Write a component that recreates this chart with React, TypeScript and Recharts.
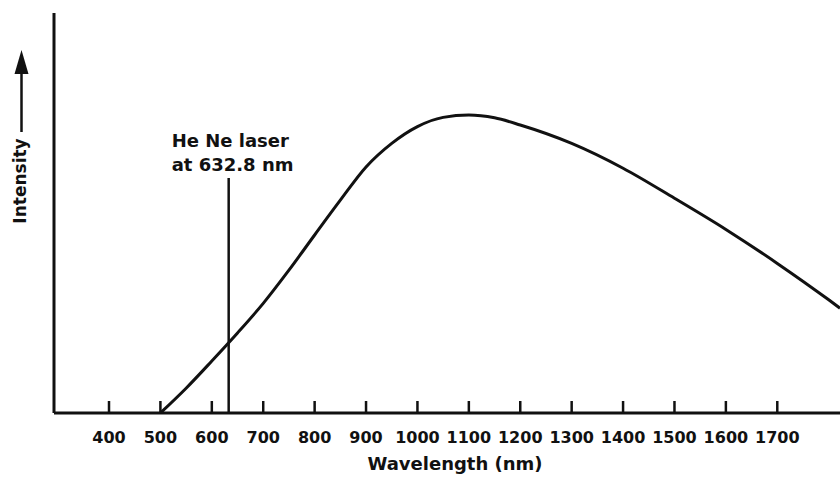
import { LineChart, Line, XAxis, YAxis, ReferenceLine, Label } from "recharts"

// emission spectrum, intensity in arbitrary units (0-100)
const wavelengths = [500, 550, 600, 650, 700, 750, 800, 850, 900, 950, 1000, 1050, 1100, 1150, 1200, 1300, 1400, 1500, 1600, 1700, 1800, 1822]
const intensities = [0, 6.2, 13, 20, 27.4, 35.7, 44.5, 53.2, 61.5, 67.4, 71.6, 73.9, 74.5, 73.8, 72, 67.4, 61.2, 53.7, 45.9, 37.4, 28.3, 26.2]
const tickValues = [400, 500, 600, 700, 800, 900, 1000, 1100, 1200, 1300, 1400, 1500, 1600, 1700]

const laserWavelength = 632.8
const laserHeight = 58.75
const laserLabel = ["He Ne laser", "at 632.8 nm"]

const xTitle = "Wavelength (nm)"
const yTitle = "Intensity"

const data = wavelengths.map((nm, i) => ({ nm, intensity: intensities[i] }))

const FONT = "'DejaVu Sans', sans-serif"
const INK = "#111"

function WaveTick(props: any) {
  const { x, y, payload } = props
  return (
    <g>
      <line x1={x} x2={x} y1={y} y2={y - 12} stroke={INK} strokeWidth={2.5} />
      <text x={x} y={y + 30} textAnchor="middle" fontFamily={FONT} fontWeight="bold" fontSize={16} fill={INK}>
        {payload.value}
      </text>
    </g>
  )
}

// rotated axis title with an upward arrow, placed left of the y axis line
function IntensityLabel(props: any) {
  const { viewBox } = props
  const left = viewBox.x + viewBox.width
  const ax = left - 32.5
  const bx = left - 28
  const cy = viewBox.y + 168
  return (
    <g>
      <text
        x={bx}
        y={cy}
        transform={`rotate(-90, ${bx}, ${cy})`}
        textAnchor="middle"
        fontFamily={FONT}
        fontWeight="bold"
        fontSize={17}
        fill={INK}
      >
        {yTitle}
      </text>
      <line x1={ax} x2={ax} y1={viewBox.y + 119} y2={viewBox.y + 58} stroke={INK} strokeWidth={2.5} />
      <polygon
        points={`${ax},${viewBox.y + 37} ${ax - 7},${viewBox.y + 61} ${ax + 7},${viewBox.y + 61}`}
        fill={INK}
      />
    </g>
  )
}

function LaserLabel(props: any) {
  const { viewBox } = props
  const lx = viewBox.x - 57
  return (
    <text fontFamily={FONT} fontWeight="bold" fontSize={18} fill={INK}>
      <tspan x={lx} y={viewBox.y - 31}>{laserLabel[0]}</tspan>
      <tspan x={lx} y={viewBox.y - 7}>{laserLabel[1]}</tspan>
    </text>
  )
}

export default function App() {
  return (
    <div style={{ position: "absolute", left: 0, top: 0, background: "#fff" }}>
      <LineChart width={840} height={478} data={data} margin={{ top: 13, right: 0, bottom: 0, left: 4 }}>
        <XAxis
          dataKey="nm"
          type="number"
          domain={[293, 1822]}
          ticks={tickValues}
          interval={0}
          tickSize={0}
          tickMargin={0}
          tickLine={false}
          tick={<WaveTick />}
          height={65}
          axisLine={{ stroke: INK, strokeWidth: 3 }}
        >
          <Label
            value={xTitle}
            position="insideBottom"
            offset={8}
            dx={8}
            fontFamily={FONT}
            fontWeight="bold"
            fontSize={18}
            fill={INK}
          />
        </XAxis>
        <YAxis
          type="number"
          domain={[0, 100]}
          width={50}
          tick={false}
          tickLine={false}
          axisLine={{ stroke: INK, strokeWidth: 3 }}
        >
          <Label content={<IntensityLabel />} />
        </YAxis>
        <ReferenceLine
          segment={[
            { x: laserWavelength, y: 0 },
            { x: laserWavelength, y: laserHeight },
          ]}
          stroke={INK}
          strokeWidth={2.5}
        >
          <Label content={<LaserLabel />} />
        </ReferenceLine>
        <Line
          type="monotone"
          dataKey="intensity"
          stroke={INK}
          strokeWidth={3}
          dot={false}
          activeDot={false}
          isAnimationActive={false}
        />
      </LineChart>
    </div>
  )
}
